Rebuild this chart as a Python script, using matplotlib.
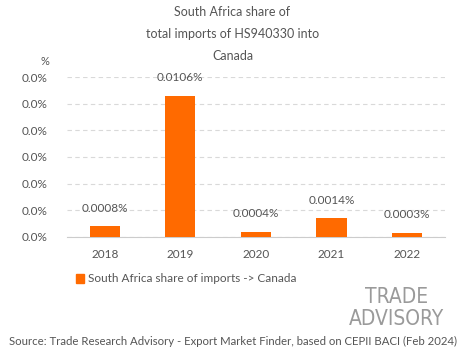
import matplotlib
matplotlib.use('Agg')
import matplotlib.pyplot as plt
from matplotlib.ticker import FuncFormatter

years = ['2018', '2019', '2020', '2021', '2022']
share = [0.0008, 0.0106, 0.0004, 0.0014, 0.0003]
labels = ['0.0008%', '0.0106%', '0.0004%', '0.0014%', '0.0003%']

plt.rcParams['font.family'] = ['Lato', 'DejaVu Sans']
orange = '#ff6a00'
txt = '#555555'

fig = plt.figure(figsize=(4.65, 3.59), dpi=100)
ax = fig.add_axes([0.144, 0.34, 0.813, 0.4455])

x = range(len(years))
ax.bar(x, share, width=0.4, color=orange, zorder=3)
for i, v in enumerate(share):
    ax.annotate(labels[i], (i, v), xytext=(0, 9), textcoords='offset points',
                ha='center', va='bottom', fontsize=8.5, color=txt)

ax.set_xlim(-0.5, 4.5)
ax.set_ylim(0, 0.012)
ax.set_yticks([0, 0.002, 0.004, 0.006, 0.008, 0.010, 0.012])
ax.yaxis.set_major_formatter(FuncFormatter(lambda v, p: '%.1f%%' % v))
ax.set_xticks(list(x))
ax.set_xticklabels(years)
ax.tick_params(axis='both', length=0, colors=txt, labelsize=8.5)
ax.tick_params(axis='y', pad=14)
ax.tick_params(axis='x', pad=9)
ax.grid(axis='y', color='#d9d9d9', linestyle=(0, (4, 3)), linewidth=0.8, zorder=0)
for s in ['top', 'right', 'left']:
    ax.spines[s].set_visible(False)
ax.spines['bottom'].set_color('#cccccc')

fig.text(0.5, 0.967, 'South Africa share of', ha='center', va='center', fontsize=9, color=txt)
fig.text(0.5, 0.905, 'total imports of HS940330 into', ha='center', va='center', fontsize=9, color=txt)
fig.text(0.5, 0.843, 'Canada', ha='center', va='center', fontsize=9, color=txt)
fig.text(0.097, 0.83, '%', ha='center', va='center', fontsize=8, color=txt)

# legend
fig.patches.append(plt.Rectangle((0.163, 0.213), 0.018, 0.023, color=orange,
                                 transform=fig.transFigure, figure=fig))
fig.text(0.19, 0.224, 'South Africa share of imports -> Canada', ha='left', va='center',
         fontsize=8.5, color=txt)

# logo
fig.text(0.853, 0.172, 'TRADE', ha='center', va='center', fontsize=15,
         color='#9a9a9a', fontstretch='condensed', family='DejaVu Sans')
fig.text(0.853, 0.112, 'ADVISORY', ha='center', va='center', fontsize=15,
         color='#9a9a9a', fontstretch='condensed', family='DejaVu Sans')

fig.text(0.5, 0.048, 'Source: Trade Research Advisory - Export Market Finder, based on CEPII BACI (Feb 2024)',
         ha='center', va='center', fontsize=8.2, color=txt)

fig.savefig('out.png', dpi=100)
